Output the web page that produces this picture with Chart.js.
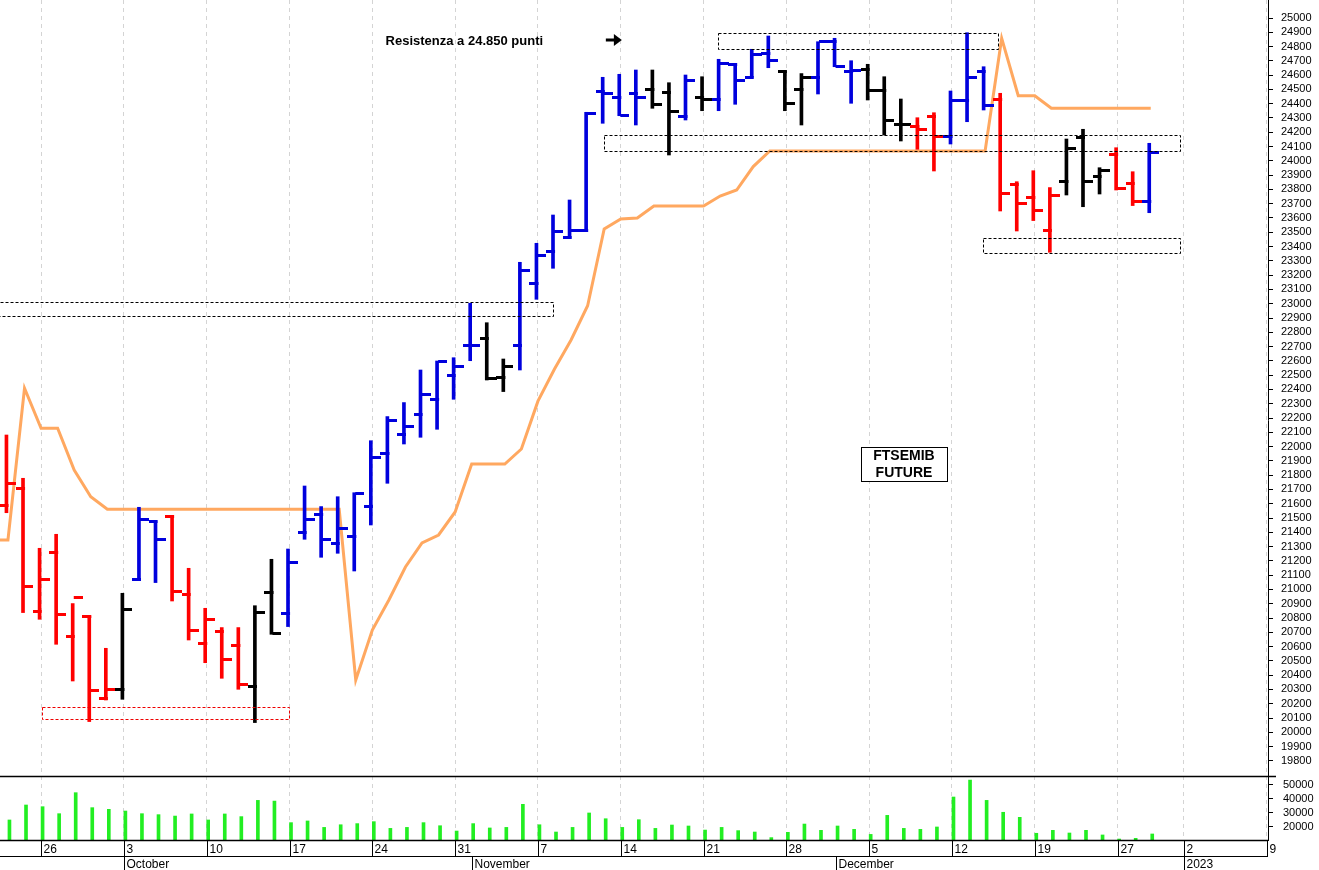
<!DOCTYPE html>
<html><head><meta charset="utf-8">
<script src="https://cdn.jsdelivr.net/npm/chart.js@4.4.0/dist/chart.umd.min.js"></script>
<style>html,body{margin:0;padding:0;background:#fff}#wrap{width:1319px;height:870px}</style>
</head><body><div id="wrap"><canvas id="c" width="1319" height="870"></canvas></div>
<script>
// trading-day index 0 = 22 Sep 2022
const opens  = [21591,21708,20845,21260,20674,20810,20238,20301,21071,21474,21509,20966,20623,20709,20611,20324,20977,20833,21400,21526,21323,21370,21584,21953,22088,22228,22333,22501,22711,22758,22485,22711,23143,23369,23465,23516,24484,24442,24473,24503,24477,24314,24445,24431,24676,24585,24753,24629,24501,24585,24834,24624,24641,24491,24256,24244,24309,24169,24426,24624,24433,23838,23745,23516,23859,24165,23894,24046,23843,23714];
const highs  = [22081,21778,21288,21386,20901,20814,20588,20973,21575,21481,21509,21148,20868,20733,20733,20886,21211,21283,21724,21580,21649,21677,22041,22210,22308,22536,22599,22622,23003,22867,22613,23290,23423,23621,23726,24340,24585,24606,24636,24636,24547,24601,24589,24711,24676,24781,24874,24629,24611,24834,24858,24701,24676,24589,24433,24302,24337,24489,24897,24659,24473,23854,23931,23813,24153,24221,23952,24092,23924,24123];
const lows   = [21537,20838,20791,20616,20359,20075,20226,20231,21066,21048,20919,20646,20487,20378,20301,20068,20686,20740,21351,21225,21253,21129,21451,21743,22018,22065,22121,22331,22601,22466,22385,22536,23031,23248,23458,23516,24263,24316,24251,24368,24041,24286,24351,24351,24396,24585,24652,24351,24251,24468,24659,24403,24426,24181,24139,24081,23929,24118,24274,24356,23649,23509,23582,23360,23761,23679,23768,23796,23687,23637];
const closes = [21743,21024,21071,20826,20947,20296,20301,20861,21493,21351,20989,20716,20791,20511,20336,20840,20693,21190,21491,21351,21428,21673,21925,22186,22144,22366,22594,22564,22711,22478,22559,23236,23336,23509,23516,24330,24470,24321,24445,24396,24349,24566,24431,24683,24561,24748,24701,24403,24585,24834,24664,24631,24491,24286,24256,24223,24169,24426,24585,24386,23773,23703,23656,23761,24088,23859,23931,23808,23714,24060];
const barColors = "RRRRRRRKBBRRRRRKKBBBBBBBBBBBBKKBBBBBBBBKKBKBBBBKKBBBKKKRRBBBRRRRKKKRRB";
const stopLine = [21346,21346,22408,22128,22128,21836,21649,21561,21561,21561,21561,21561,21561,21561,21561,21561,21561,21561,21561,21561,21561,21561,20366,20716,20926,21157,21325,21381,21542,21878,21878,21878,21983,22318,22543,22746,22986,23523,23593,23600,23684,23684,23684,23684,23754,23796,23960,24069,24069,24069,24069,24069,24069,24069,24069,24069,24069,24069,24069,24069,24069,24858,24456,24456,24368,24368,24368,24368,24368,24368,24368]; // starts at index -1
const volumes = [24300,35000,33800,28800,43800,33100,31900,30700,28800,28100,27100,28600,24300,28600,26700,38300,37800,22400,23600,19000,20900,21700,23100,18300,19000,22400,20200,16400,21700,18600,19000,35500,20900,15700,19000,29300,25200,19000,24500,18300,20700,20000,17100,19000,16700,15700,11700,15500,21400,16900,20000,17600,14000,27600,18300,17600,19300,40700,52800,38300,29800,26200,14800,16900,15000,16900,13600,10700,11200,14300];
const tickIdx = [2,7,12,17,22,27,32,37,42,47,52,57,62,67,71,76];
const tickLbl = ['26','3','10','17','24','31','7','14','21','28','5','12','19','27','2','9'];
const monthIdx = [7,28,50,71];
const monthLbl = ['October','November','December','2023'];
const priceTicks = []; for (let v=19800; v<=25000; v+=100) priceTicks.push(v);
const volTicks = [20000,30000,40000,50000];
const volPanelTop = 55700;
// annotation boxes: [x0,x1,yHigh,yLow,color]
const boxes = [[-2,32.9,23012,22914,'#000'],[2.03,16.95,20177,20093,'#e00'],[42.9,59.8,24895,24783,'#000'],[36,70.8,24181,24069,'#000'],[58.9,70.8,23460,23355,'#000']];
const note1 = {x:22.8, y:24839, text:'Resistenza a 24.850 punti'};
const arrow = {x:36.1, y:24846};
const label2 = {x:54.1, y:21878, lines:['FTSEMIB','FUTURE']};

const COL = {R:'#ff0000', B:'#0000dd', K:'#000000'};
function tick(color, side){
  const c=document.createElement('canvas'); c.width=17; c.height=3;
  const g=c.getContext('2d'); g.fillStyle=color;
  if(side==='L') g.fillRect(0,0,9,3); else g.fillRect(8,0,9,3);
  return c;
}
const tk = {}; for (const k in COL){ tk[k+'L']=tick(COL[k],'L'); tk[k+'R']=tick(COL[k],'R'); }
const idx = opens.map((_,i)=>i);
const colArr = idx.map(i=>COL[barColors[i]]);

const overlay = {
  id:'overlay',
  afterDraw(chart){
    const g=chart.ctx, x=chart.scales.x, y=chart.scales.y, yv=chart.scales.yv, a=chart.chartArea;
    g.save();
    g.lineWidth=1; g.setLineDash([3,2]);
    boxes.forEach(b=>{ g.strokeStyle=b[4]; const x0=x.getPixelForValue(b[0]),x1=x.getPixelForValue(b[1]); const y0=y.getPixelForValue(b[2]),y1=y.getPixelForValue(b[3]); g.strokeRect(Math.round(x0)+0.5,Math.round(y0)+0.5,Math.round(x1-x0),Math.round(y1-y0)); });
    g.setLineDash([]);
    g.fillStyle='#000'; g.font='bold 13px "Liberation Sans", Arial'; g.textBaseline='middle'; g.textAlign='left';
    g.fillText(note1.text, x.getPixelForValue(note1.x), y.getPixelForValue(note1.y));
    const ax=x.getPixelForValue(arrow.x), ay=y.getPixelForValue(arrow.y);
    g.fillRect(ax, ay-1.5, 10, 3); g.beginPath(); g.moveTo(ax+8,ay-6); g.lineTo(ax+16,ay); g.lineTo(ax+8,ay+6); g.closePath(); g.fill();
    const cx=x.getPixelForValue(label2.x), cy=y.getPixelForValue(label2.y);
    g.font='bold 14px "Liberation Sans", Arial'; g.textAlign='center';
    g.fillStyle='#fff'; g.fillRect(cx-43,cy-17,86,34); g.strokeStyle='#000'; g.lineWidth=1; g.strokeRect(Math.round(cx-43)+0.5,Math.round(cy-17)+0.5,86,34);
    g.fillStyle='#000'; g.fillText(label2.lines[0],cx,cy-8); g.fillText(label2.lines[1],cx,cy+9);
    const py=Math.round(yv.getPixelForValue(volPanelTop))+0.5;
    g.strokeStyle='#000'; g.lineWidth=1.5; g.beginPath(); g.moveTo(0,py); g.lineTo(a.right+8,py); g.stroke();
    g.lineWidth=1; g.font='11px "Liberation Sans", Arial'; g.textAlign='left';
    volTicks.forEach(v=>{ const yy=Math.round(yv.getPixelForValue(v))+0.5; g.beginPath(); g.moveTo(a.right,yy); g.lineTo(a.right+5,yy); g.stroke(); g.fillText(String(v), a.right+15, yy); });
    const b=Math.round(a.bottom)+0.5, r2=b+16;
    g.lineWidth=1.5; g.beginPath(); g.moveTo(0,b); g.lineTo(a.right,b); g.stroke();
    g.lineWidth=1; g.beginPath(); g.moveTo(0,r2); g.lineTo(a.right,r2); g.stroke();
    g.font='12px "Liberation Sans", Arial';
    tickIdx.forEach((t,k)=>{ const xx=Math.round(x.getPixelForValue(t))+0.5; g.beginPath(); g.moveTo(xx,b); g.lineTo(xx,r2); g.stroke(); g.fillText(tickLbl[k], xx+2, b+9); });
    monthIdx.forEach((t,k)=>{ const xx=Math.round(x.getPixelForValue(t))+0.5; g.beginPath(); g.moveTo(xx,r2); g.lineTo(xx,870); g.stroke(); g.fillText(monthLbl[k], xx+2, r2+8); });
    g.restore();
  }
};

new Chart(document.getElementById('c'), {
  data:{ datasets:[
    {type:'line', data:stopLine.map((v,i)=>({x:i-1,y:v})), borderColor:'#ffa860', borderWidth:3, pointRadius:0, yAxisID:'y', order:5},
    {type:'bar', data:volumes.map((v,i)=>({x:i,y:v})), backgroundColor:'#22ee22', barThickness:3, yAxisID:'yv', order:4},
    {type:'bar', data:idx.map(i=>({x:i,y:[lows[i],highs[i]]})), backgroundColor:colArr, barThickness:3, yAxisID:'y', order:1},
    {type:'scatter', data:idx.map(i=>({x:i,y:opens[i]})), pointStyle:idx.map(i=>tk[barColors[i]+'L']), yAxisID:'y', order:0},
    {type:'scatter', data:idx.map(i=>({x:i,y:closes[i]})), pointStyle:idx.map(i=>tk[barColors[i]+'R']), yAxisID:'y', order:0}
  ]},
  options:{
    responsive:false, animation:false, events:[],
    layout:{autoPadding:false, padding:{top:0,left:0,right:0,bottom:30}},
    plugins:{legend:{display:false}, tooltip:{enabled:false}},
    scales:{
      x:{type:'linear', min:-0.48, max:76.08, offset:false,
         afterBuildTicks:s=>{s.ticks=tickIdx.map(v=>({value:v}));},
         afterFit:s=>{s.height=0; s.paddingLeft=0; s.paddingRight=0;},
         ticks:{display:false}, grid:{color:'#d4d4d4', tickLength:0, drawTicks:false, offset:false}, border:{display:false, dash:[4,4]}},
      y:{position:'right', min:19246, max:25126,
         afterBuildTicks:s=>{s.ticks=priceTicks.map(v=>({value:v}));},
         afterFit:s=>{s.width=51; s.paddingTop=0; s.paddingBottom=0;},
         ticks:{color:'#000', font:{size:11, family:'"Liberation Sans", Arial'}, padding:8, autoSkip:false, callback:v=>String(v)},
         grid:{drawOnChartArea:false, tickLength:5, color:'#000'}, border:{display:true,color:'#000',width:1}},
      yv:{display:false, min:10000, max:610000}
    }
  },
  plugins:[overlay]
});
</script></body></html>
